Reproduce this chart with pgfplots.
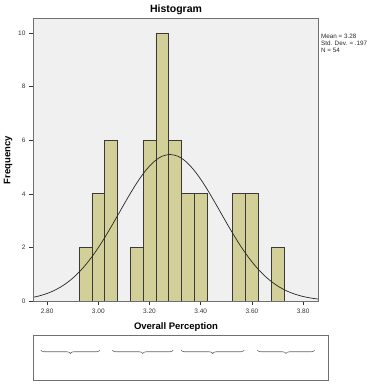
\documentclass[border=0pt]{standalone}
\usepackage{fontspec}
\setmainfont{Liberation Sans}
\usepackage{pgfplots}
\pgfplotsset{compat=1.18}
\usetikzlibrary{decorations.pathreplacing}
\definecolor{barfill}{HTML}{D3CF98}
\definecolor{bgc}{HTML}{F0F0F0}
\definecolor{edge}{HTML}{3A3A3A}
\definecolor{frame}{HTML}{707070}
\begin{document}
\begin{tikzpicture}[x=1pt,y=1pt]
\useasboundingbox (0,0) rectangle (381,-384);
\begin{axis}[
  at={(33pt,-301pt)}, anchor=south west,
  scale only axis, width=285pt, height=283pt,
  xmin=2.745, xmax=3.858, ymin=0, ymax=10.56,
  axis background/.style={fill=bgc},
  axis line style={frame, line width=0.8pt},
  xtick={2.8,3.0,3.2,3.4,3.6,3.8},
  ytick={0,2,4,6,8,10},
  xticklabel style={/pgf/number format/.cd, fixed, fixed zerofill, precision=2},
  /pgf/number format/assume math mode=true,
  tick label style={font=\fontsize{6.5}{7}\selectfont, text=black!80},
  tick align=outside, tick pos=left,
  major tick length=4pt,
  tick style={black!80, line width=0.6pt},
  axis x line*=bottom, axis y line*=left,
  clip=true,
]
\addplot[ybar interval, fill=barfill, draw=edge, line width=0.7pt] coordinates {
  (2.925,2) (2.975,4) (3.025,6) (3.075,0)
};
\addplot[ybar interval, fill=barfill, draw=edge, line width=0.7pt] coordinates {
  (3.125,2) (3.175,6) (3.225,10) (3.275,6) (3.325,4) (3.375,4) (3.425,0)
};
\addplot[ybar interval, fill=barfill, draw=edge, line width=0.7pt] coordinates {
  (3.525,4) (3.575,4) (3.625,0)
};
\addplot[ybar interval, fill=barfill, draw=edge, line width=0.7pt] coordinates {
  (3.675,2) (3.725,0)
};
\addplot[black!85, line width=0.7pt, smooth] coordinates {
  (2.745,0.137) (2.77,0.192) (2.80,0.281) (2.825,0.380) (2.85,0.505)
  (2.875,0.661) (2.90,0.851) (2.925,1.078) (2.95,1.344) (2.975,1.649)
  (3.00,1.991) (3.025,2.366) (3.05,2.766) (3.075,3.182) (3.10,3.602)
  (3.125,4.012) (3.15,4.398) (3.175,4.744) (3.20,5.035) (3.225,5.259)
  (3.25,5.405) (3.28,5.468) (3.31,5.405) (3.335,5.259) (3.36,5.035)
  (3.385,4.744) (3.41,4.398) (3.435,4.012) (3.46,3.602) (3.485,3.182)
  (3.51,2.766) (3.535,2.366) (3.56,1.991) (3.585,1.649) (3.61,1.344)
  (3.635,1.078) (3.66,0.851) (3.685,0.661) (3.71,0.505) (3.735,0.380)
  (3.76,0.281) (3.79,0.192) (3.815,0.137) (3.84,0.096) (3.858,0.074)
};
\end{axis}
\draw[frame, line width=0.8pt] (33,-18) rectangle (318,-301);
\node[font=\fontsize{10.5}{12}\selectfont\bfseries] at (176,-10) {Histogram};
\node[font=\fontsize{9.5}{11}\selectfont\bfseries, rotate=90] at (8,-160) {Frequency};
\node[font=\fontsize{9.5}{11}\selectfont\bfseries] at (176,-327) {Overall Perception};
\node[anchor=north west, align=left, font=\fontsize{6.3}{7}\selectfont, inner sep=0pt, text=black!85] at (321,-34) {Mean = 3.28\\Std. Dev. = .197\\N = 54};
\draw[frame, line width=0.8pt] (33,-335) rectangle (328,-380);
\foreach \a/\b in {40.7/100, 112.3/173.3, 181/244.3, 257.3/314.7}
  \draw[black!60, line width=0.6pt, decorate, decoration={brace, mirror, amplitude=3.5pt}] (\a,-350) -- (\b,-350);
\end{tikzpicture}
\end{document}
